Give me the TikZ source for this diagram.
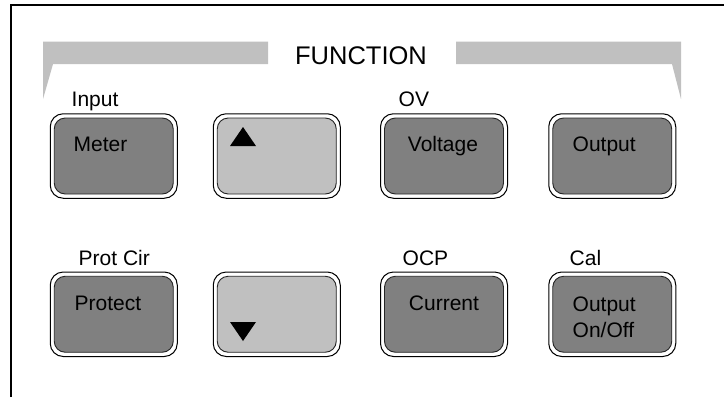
\documentclass[tikz,border=0pt]{standalone}
\usepackage{fontspec}
\setmainfont{Liberation Sans}
\definecolor{bandgray}{HTML}{C0C0C0}
\definecolor{keydark}{HTML}{808080}
\definecolor{keylight}{HTML}{C0C0C0}
\begin{document}
\begin{tikzpicture}[x=1pt,y=-1pt,
  keyframe/.style={draw=black, line width=1pt, fill=white, rounded corners=13pt, minimum width=127pt, minimum height=84.5pt, inner sep=0pt},
  keydarkface/.style={draw=black!85, line width=0.9pt, fill=keydark, rounded corners=11pt, minimum width=119pt, minimum height=76pt, inner sep=0pt},
  keylightface/.style={keydarkface, fill=keylight},
  lbl/.style={font=\fontsize{21}{23}\selectfont, anchor=base west, inner sep=0pt},
  titlelbl/.style={font=\fontsize{25.5}{28}\selectfont, anchor=base, inner sep=0pt},
  band/.style={fill=bandgray, draw=none},
  arrowmark/.style={fill=black, draw=none}
]
\useasboundingbox (0,0) rectangle (724,397);
\fill[white] (0,0) rectangle (724,397);
% frame
\draw[line width=2pt] (11,397) -- (11,5) -- (724,5);
% function banner
\fill[band] (43,41.7) -- (268,41.7) -- (268,64) -- (53,64) -- (43,99) -- cycle;
\fill[band] (456,41.7) -- (681,41.7) -- (681,99) -- (672,64) -- (456,64) -- cycle;
\node[titlelbl] (title) at (361,64.3) {FUNCTION};
% row 1 keys
\node[keyframe] (k1) at (113.75,156) {};
\node[keydarkface] (f1) at (k1.center) {};
\node[keyframe] (k2) at (276.75,156) {};
\node[keylightface] (f2) at (k2.center) {};
\node[keyframe] (k3) at (444,156) {};
\node[keydarkface] (f3) at (k3.center) {};
\node[keyframe] (k4) at (612.25,156) {};
\node[keydarkface] (f4) at (k4.center) {};
% row 2 keys
\node[keyframe] (k5) at (113.75,314.25) {};
\node[keydarkface] (f5) at (k5.center) {};
\node[keyframe] (k6) at (276.75,314.25) {};
\node[keylightface] (f6) at (k6.center) {};
\node[keyframe] (k7) at (444,314.25) {};
\node[keydarkface] (f7) at (k7.center) {};
\node[keyframe] (k8) at (612.25,314.25) {};
\node[keydarkface] (f8) at (k8.center) {};
% arrows
\fill[arrowmark] (230,146) -- (256,146) -- (243,127) -- cycle;
\fill[arrowmark] (230,322) -- (256,322) -- (243,341) -- cycle;
% labels above keys
\node[lbl] (lInput) at (71.5,106) {Input};
\node[lbl] (lOV) at (398.5,106) {OV};
\node[lbl] (lProt) at (78.5,265.7) {Prot Cir};
\node[lbl] (lOCP) at (402.5,265.7) {OCP};
\node[lbl] (lCal) at (569.5,265.7) {Cal};
% key texts
\node[lbl] (tMeter) at (73.5,151.5) {Meter};
\node[lbl, anchor=base] (tVolt) at (443,151.5) {Voltage};
\node[lbl] (tOut) at (572.5,151.5) {Output};
\node[lbl] (tProt) at (74.5,310) {Protect};
\node[lbl, anchor=base] (tCur) at (444,310) {Current};
\node[lbl] (tOut2) at (572.5,311) {Output};
\node[lbl] (tOnOff) at (572.5,337.7) {On/Off};
\end{tikzpicture}
\end{document}
